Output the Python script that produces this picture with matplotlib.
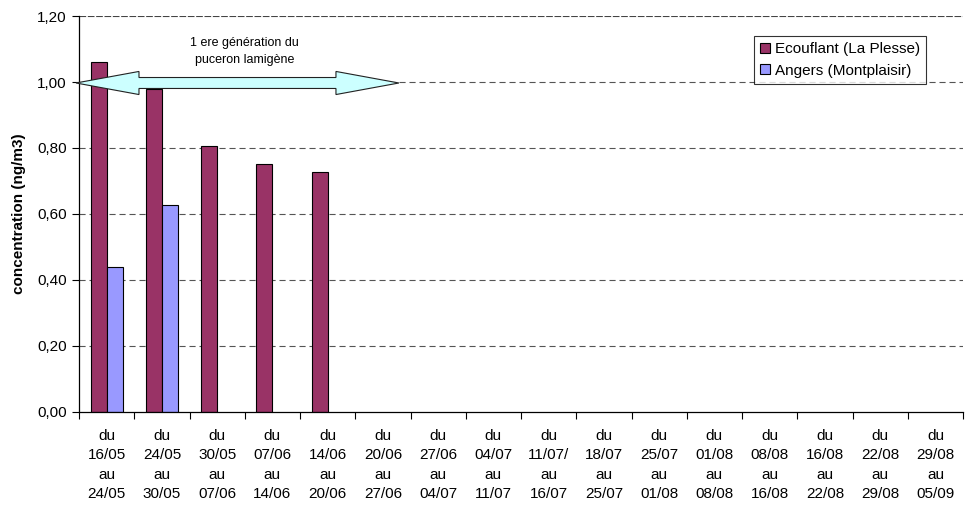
import matplotlib
matplotlib.use("Agg")
import matplotlib.pyplot as plt
from matplotlib.patches import Polygon
import numpy as np

plt.rcParams["font.family"] = ["Liberation Sans", "DejaVu Sans"]

periods = [
    ("16/05", "24/05"), ("24/05", "30/05"), ("30/05", "07/06"), ("07/06", "14/06"),
    ("14/06", "20/06"), ("20/06", "27/06"), ("27/06", "04/07"), ("04/07", "11/07"),
    ("11/07/", "16/07"), ("18/07", "25/07"), ("25/07", "01/08"), ("01/08", "08/08"),
    ("08/08", "16/08"), ("16/08", "22/08"), ("22/08", "29/08"), ("29/08", "05/09"),
]
categories = [f"du\n{a}\nau\n{b}" for a, b in periods]

ecouflant = [1.06, 0.98, 0.805, 0.752, 0.728]
angers = [0.44, 0.626]

series_names = ["Ecouflant (La Plesse)", "Angers (Montplaisir)"]
series_colors = ["#993366", "#9999FF"]

y_ticks = [0.0, 0.2, 0.4, 0.6, 0.8, 1.0, 1.2]
y_tick_labels = ["0,00", "0,20", "0,40", "0,60", "0,80", "1,00", "1,20"]

annotation_text = "1 ere génération du\npuceron lamigène"

FS = 11

fig = plt.figure(figsize=(9.65, 5.05), dpi=100)
ax = fig.add_axes([0.0819, 0.1842, 0.9161, 0.7841])

n = len(categories)
bar_w = 0.29
x = np.arange(n)

# horizontal dashed gridlines
for v in y_ticks[1:-1]:
    ax.axhline(v, color="#555555", lw=0.8, dashes=(5.5, 3.5), zorder=0)
ax.axhline(y_ticks[-1], color="#444444", lw=0.8, dashes=(6, 1.5), zorder=0)

ax.bar(x[:len(ecouflant)] - bar_w / 2, ecouflant, width=bar_w,
       color=series_colors[0], edgecolor="black", linewidth=0.8,
       label=series_names[0], zorder=2)
ax.bar(x[:len(angers)] + bar_w / 2, angers, width=bar_w,
       color=series_colors[1], edgecolor="black", linewidth=0.8,
       label=series_names[1], zorder=2)

ax.set_xlim(-0.5, n - 0.5)
ax.set_ylim(0, 1.2)

# category boundaries carry the tick marks, centres carry the labels
ax.set_xticks(np.arange(n + 1) - 0.5)
ax.set_xticklabels([])
ax.set_xticks(x, minor=True)
ax.set_xticklabels(categories, minor=True, fontsize=FS, linespacing=1.5)
ax.tick_params(axis="x", which="major", direction="out", length=5, width=0.8)
ax.tick_params(axis="x", which="minor", length=0, pad=12)

ax.set_yticks(y_ticks)
ax.set_yticklabels(y_tick_labels, fontsize=FS)
ax.tick_params(axis="y", direction="out", length=5, width=0.8, pad=4)

for side in ("top", "right"):
    ax.spines[side].set_visible(False)
ax.spines["left"].set_linewidth(0.9)
ax.spines["bottom"].set_linewidth(0.9)

ax.set_ylabel("concentration (ng/m3)", fontsize=FS, fontweight="bold")
ax.yaxis.set_label_coords(-0.0595, 0.5)

# double-headed arrow marking the first generation period
x_left, x_right = -0.555, 5.29
y_mid = 0.997
head_len = 1.14
shaft_half = 0.0166
head_half = 0.035
arrow_pts = [
    (x_left, y_mid),
    (x_left + head_len, y_mid + head_half),
    (x_left + head_len, y_mid + shaft_half),
    (x_right - head_len, y_mid + shaft_half),
    (x_right - head_len, y_mid + head_half),
    (x_right, y_mid),
    (x_right - head_len, y_mid - head_half),
    (x_right - head_len, y_mid - shaft_half),
    (x_left + head_len, y_mid - shaft_half),
    (x_left + head_len, y_mid - head_half),
]
ax.add_patch(Polygon(arrow_pts, closed=True, facecolor="#CCFFFF",
                     edgecolor="#222222", linewidth=0.8, zorder=4,
                     clip_on=False))
ax.text(2.49, 1.093, annotation_text, ha="center", va="center",
        fontsize=9, linespacing=1.55, zorder=5)

leg = ax.legend(loc="upper right", bbox_to_anchor=(0.958, 0.9495),
                fontsize=FS, frameon=True, fancybox=False,
                edgecolor="black", handlelength=0.65, handleheight=0.65,
                handletextpad=0.3, borderpad=0.4, labelspacing=0.5,
                borderaxespad=0)
leg.get_frame().set_linewidth(0.8)
leg.set_zorder(6)

fig.savefig("out.png", dpi=100)
